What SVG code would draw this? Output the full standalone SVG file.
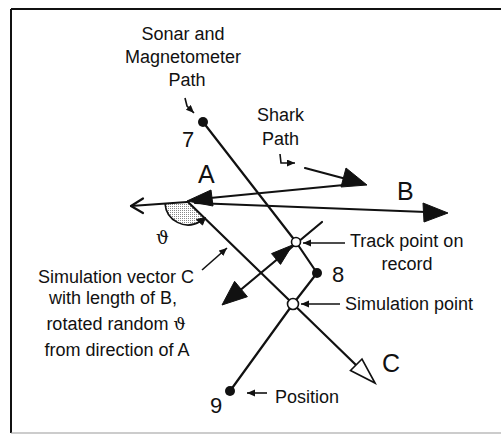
<svg xmlns="http://www.w3.org/2000/svg" width="501" height="435" viewBox="0 0 501 435">
<style>
.t{font-family:"Liberation Sans",Arial,sans-serif;font-size:18px;fill:#111}
.big{font-family:"Liberation Sans",Arial,sans-serif;font-size:25px;fill:#111}
.num{font-family:"Liberation Sans",Arial,sans-serif;font-size:22px;fill:#111}
.th{font-family:"DejaVu Serif","Liberation Serif",serif}
.ln{fill:none;stroke:#111;stroke-width:2.2;stroke-linecap:round;stroke-linejoin:round}
.thin{fill:none;stroke:#111;stroke-width:1.6}
.ah{fill:#111;stroke:#111;stroke-width:1;stroke-linejoin:round}
.dot{fill:#111}
.open{fill:#fff;stroke:#111;stroke-width:1.6}
</style>
<defs>
<marker id="sm" markerUnits="userSpaceOnUse" markerWidth="10" markerHeight="8" refX="8" refY="3.5" orient="auto">
<path d="M0,0 L8,3.5 L0,7 z" fill="#111"/>
</marker>
<pattern id="stip" width="2" height="2" patternUnits="userSpaceOnUse">
<rect width="2" height="2" fill="#fff"/>
<rect width="1" height="1" fill="#888"/>
</pattern>
</defs>

<g id="frame">
<line x1="11" y1="9" x2="501" y2="9" stroke="#111" stroke-width="2"/>
<line x1="11" y1="9" x2="11" y2="433" stroke="#111" stroke-width="2"/>
<line x1="11" y1="433" x2="501" y2="433" stroke="#999" stroke-width="1.2"/>
</g>

<g id="connectors">
<path d="M188,202 L165,203.6 A23,23 0 0 0 203,218.5 Z" fill="url(#stip)" stroke="none"/>
<path d="M165,203.6 A23,23 0 0 0 200,221.5" class="thin" stroke-width="2"/>
<path d="M205.5,217.5 L196.5,219.5 L202.5,225 z" class="ah"/>
<line x1="131" y1="206" x2="187" y2="202" class="ln"/>
<path d="M143,198.5 L131,206 L143,213" class="ln"/>
<line x1="210" y1="198" x2="344" y2="185" class="ln"/>
<path d="M187,201 L211,190 L213,206 z" class="ah"/>
<line x1="305" y1="168" x2="350" y2="180" class="ln"/>
<path d="M367,185 L346,168 L341,187 z" class="ah"/>
<line x1="195" y1="203" x2="426" y2="212" class="ln"/>
<path d="M448,213 L423,203 L424,222 z" class="ah"/>
<line x1="188" y1="202" x2="356" y2="365" class="ln"/>
<path d="M375,383 L362,359 L350.5,370.5 z" class="open" stroke-width="2"/>
<polyline points="203,122 296,242 317,273" class="ln"/>
<polyline points="317,273 293,304 230,391" class="ln"/>
<line x1="322" y1="222" x2="238" y2="292" class="ln"/>
<path d="M292.5,245 L271.5,253.6 L280.5,264.4 z" class="ah"/>
<path d="M222,305 L234.6,281.3 L247.4,296.7 z" class="ah"/>
<polyline points="185,98 187,106 194,113" class="thin" marker-end="url(#sm)"/>
<polyline points="280,154 281,163 295,163" class="thin" marker-end="url(#sm)"/>
<line x1="202" y1="270" x2="227" y2="248" class="thin" marker-end="url(#sm)"/>
<line x1="345" y1="243" x2="303" y2="243" class="thin" marker-end="url(#sm)"/>
<line x1="340" y1="304" x2="301" y2="304" class="thin" marker-end="url(#sm)"/>
<line x1="267" y1="393" x2="247" y2="393" class="thin" marker-end="url(#sm)"/>
</g>

<g id="node-7">
<circle cx="203" cy="122" r="5" class="dot"/>
<text x="182" y="147" class="num">7</text>
</g>
<g id="node-8">
<circle cx="317" cy="273" r="5" class="dot"/>
<text x="332" y="282" class="num">8</text>
</g>
<g id="node-9">
<circle cx="230" cy="391" r="5" class="dot"/>
<text x="210" y="413" class="num">9</text>
</g>
<g id="node-track">
<circle cx="296" cy="242" r="4.5" class="open"/>
<text x="350" y="247" class="t">Track point on</text>
<text x="407" y="270" class="t" text-anchor="middle">record</text>
</g>
<g id="node-sim">
<circle cx="293" cy="304" r="5.5" class="open"/>
<text x="345" y="310" class="t">Simulation point</text>
</g>
<g id="label-position">
<text x="275" y="403" class="t">Position</text>
</g>
<g id="label-sonar">
<text x="183" y="40" class="t" text-anchor="middle">Sonar and</text>
<text x="183" y="63" class="t" text-anchor="middle">Magnetometer</text>
<text x="187" y="86" class="t" text-anchor="middle">Path</text>
</g>
<g id="label-shark">
<text x="257" y="121" class="t">Shark</text>
<text x="262" y="145" class="t">Path</text>
</g>
<g id="label-A"><text x="198" y="183" class="big">A</text></g>
<g id="label-B"><text x="397" y="200" class="big">B</text></g>
<g id="label-C"><text x="382" y="372" class="big">C</text></g>
<g id="label-theta"><text x="156" y="244" class="t th" font-size="18">ϑ</text></g>
<g id="label-simvec">
<text x="116" y="283" class="t" text-anchor="middle">Simulation vector C</text>
<text x="113" y="304" class="t" text-anchor="middle">with length of B,</text>
<text x="116" y="330" class="t" text-anchor="middle">rotated random <tspan class="th" font-size="17">ϑ</tspan></text>
<text x="117" y="356" class="t" text-anchor="middle">from direction of A</text>
</g>
</svg>
